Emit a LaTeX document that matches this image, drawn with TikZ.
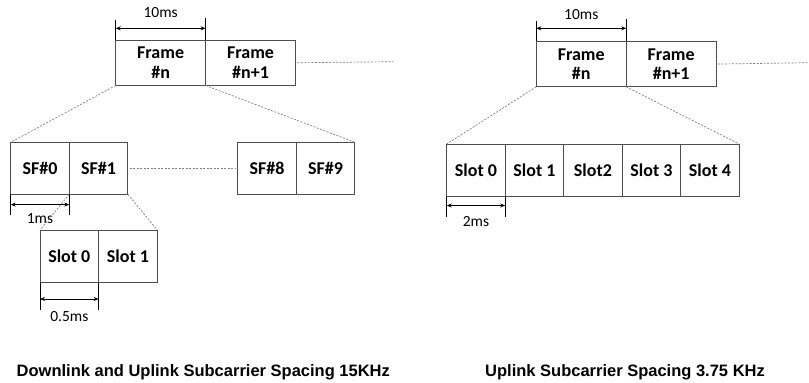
\documentclass[tikz,border=0pt]{standalone}
\usepackage{fontspec}
\setmainfont{Carlito}
\newfontfamily\captionfont{Liberation Sans}
\usepackage{tikz}
\usetikzlibrary{arrows.meta,positioning}
\definecolor{boxline}{HTML}{4D4D4D}
\definecolor{zoomgray}{HTML}{808080}
\tikzset{
  slotbox/.style={
    rectangle, draw=boxline, line width=0.9pt,
    minimum width=#1, minimum height=52pt,
    font=\fontsize{18}{19.5}\selectfont\bfseries, align=center,
    inner sep=0pt, outer sep=0pt
  },
  slotbox/.default=58.6pt,
  framecell/.style={
    slotbox=89.9pt, minimum height=45.5pt
  },
  zoomline/.style={
    draw=zoomgray, line width=0.7pt, dash pattern=on 2pt off 1.5pt
  },
  dimarrow/.style={
    {Stealth[length=5pt,width=4pt]}-{Stealth[length=5pt,width=4pt]},
    line width=0.8pt
  },
  extline/.style={line width=0.8pt},
  labelnode/.style={
    font=\fontsize{15.5}{18}\selectfont, inner sep=0pt
  },
  titlenode/.style={
    font=\captionfont\fontsize{16.5}{20}\selectfont\bfseries, inner sep=0pt
  },
}

\begin{document}
\begin{tikzpicture}[x=1pt, y=-1pt]
  \useasboundingbox (0,0) rectangle (809,383);

  % 15 kHz: frames
  \node[framecell, anchor=north west] (fn) at (115.7,40) {Frame\\\#n};
  \node[framecell, right=0pt of fn] (fn1) {Frame\\\#n+1};
  \coordinate (fend) at (393.3,61.7);
  \draw[zoomline] ([xshift=2pt]fn1.east) -- (fend);
  \draw[extline] (fn.north west) -- ++(0,-20);
  \draw[extline] (fn.north east) -- ++(0,-22);
  \draw[dimarrow] ([yshift=11.7pt]fn.north west) -- node[labelnode, above=10pt] (t10) {10ms} ([yshift=11.7pt]fn.north east);

  % 15 kHz: subframes
  \node[slotbox, anchor=north west] (sf0) at (10.7,142.3) {SF\#0};
  \node[slotbox, right=0pt of sf0] (sf1) {SF\#1};
  \node[slotbox, anchor=north west] (sf8) at (237.7,142.3) {SF\#8};
  \node[slotbox, right=0pt of sf8] (sf9) {SF\#9};
  \draw[zoomline] ([xshift=2pt]sf1.east) -- ([xshift=-2pt]sf8.west);
  \draw[zoomline] (fn.south west) -- (sf0.north west);
  \draw[zoomline] (fn.south east) -- (sf9.north east);
  \draw[extline] (sf0.south west) -- ++(0,21);
  \draw[extline] (sf0.south east) -- ++(0,21);
  \draw[dimarrow] ([yshift=-10.3pt]sf0.south west) -- node[labelnode, below=8.5pt] (t1) {1ms} ([yshift=-10.3pt]sf0.south east);

  % 15 kHz: slots
  \node[slotbox, anchor=north west] (sl0) at (40,230) {Slot 0};
  \node[slotbox, right=0pt of sl0] (sl1) {Slot 1};
  \draw[zoomline] (sf1.south west) -- (sl0.north west);
  \draw[zoomline] (sf1.south east) -- (sl1.north east);
  \draw[extline] (sl0.south west) -- ++(0,28);
  \draw[extline] (sl0.south east) -- ++(0,28);
  \draw[dimarrow] ([yshift=-17pt]sl0.south west) -- node[labelnode, below=12pt] (t05) {0.5ms} ([yshift=-17pt]sl0.south east);

  \node[titlenode, anchor=base] (ttl) at (203.3,376.5) {Downlink and Uplink Subcarrier Spacing 15KHz};

  % 3.75 kHz: frames
  \node[framecell, anchor=north west] (rfn) at (536.3,41.3) {Frame\\\#n};
  \node[framecell, right=0pt of rfn] (rfn1) {Frame\\\#n+1};
  \coordinate (rend) at (809,62.7);
  \draw[zoomline] ([xshift=2pt]rfn1.east) -- (rend);
  \draw[extline] (rfn.north west) -- ++(0,-20.5);
  \draw[extline] (rfn.north east) -- ++(0,-22);
  \draw[dimarrow] ([yshift=13pt]rfn.north west) -- node[labelnode, above=8pt] (rt10) {10ms} ([yshift=13pt]rfn.north east);

  % 3.75 kHz: slots
  \foreach \i/\txt in {0/Slot 0, 1/Slot 1, 2/Slot2, 3/Slot 3, 4/Slot 4}
    \node[slotbox=58.5pt, anchor=north west] (rs\i) at ({446.7+58.5*\i},144) {\txt};
  \draw[zoomline] (rfn.south west) -- (rs0.north west);
  \draw[zoomline] (rfn.south east) -- (rs4.north east);
  \draw[extline] (rs0.south west) -- ++(0,20.5);
  \draw[extline] (rs0.south east) -- ++(0,20.5);
  \draw[dimarrow] ([yshift=-9.5pt]rs0.south west) -- node[labelnode, below=11pt] (t2) {2ms} ([yshift=-9.5pt]rs0.south east);

  \node[titlenode, anchor=base] (rttl) at (625,376.5) {Uplink Subcarrier Spacing 3.75 KHz};
\end{tikzpicture}
\end{document}
